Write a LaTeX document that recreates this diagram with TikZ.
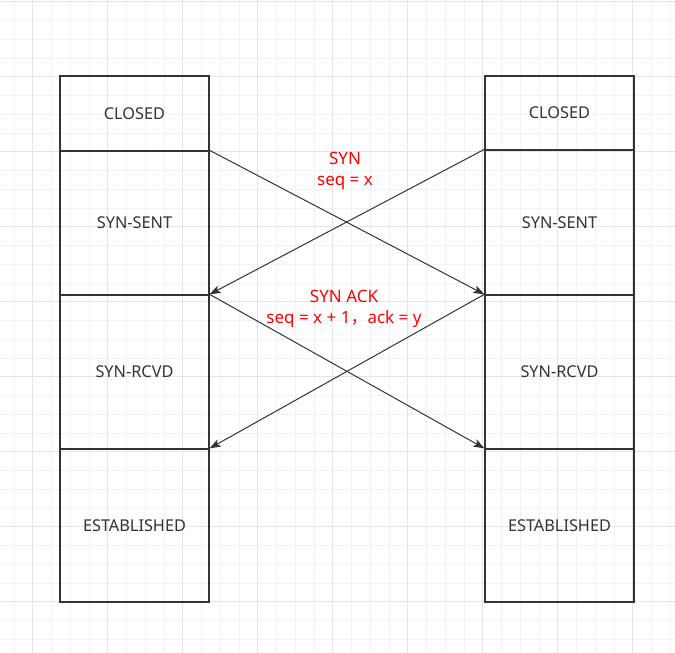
\documentclass[tikz,border=0pt]{standalone}
\usepackage{fontspec}
\setmainfont{Noto Sans}
\newfontfamily\cjk{Noto Sans CJK SC}
\usepackage{tikz}
\usetikzlibrary{arrows.meta}

\definecolor{ink}{HTML}{333333}
\definecolor{gridminor}{HTML}{F2F2F2}
\definecolor{gridmajor}{HTML}{E4E4E4}
\definecolor{msgred}{HTML}{FF0000}

\tikzset{
	state/.style={draw=ink, line width=1.3pt, rectangle, minimum width=149pt, inner sep=0pt, text=ink, font=\fontsize{16.3}{19}\selectfont},
	msg/.style={text=msgred, align=center, font=\fontsize{17}{21}\selectfont},
}

\begin{document}
\begin{tikzpicture}[x=1pt, y=-1pt, >={Stealth[length=11pt, width=8pt, inset=2.5pt]}]
	\useasboundingbox (0,0) rectangle (675,653);
	\fill[white] (0,0) rectangle (675,653);
	% background grid
	\foreach \i in {0,...,35} \draw[gridminor, line width=0.8pt] ({14+18.75*\i},0) -- ++(0,653);
	\foreach \j in {0,...,34} \draw[gridminor, line width=0.8pt] (0,{1.7+18.75*\j}) -- ++(675,0);
	\foreach \i in {0,...,8} \draw[gridmajor, line width=0.8pt] ({32.7+75*\i},0) -- ++(0,653);
	\foreach \j in {0,...,8} \draw[gridmajor, line width=0.8pt] (0,{1.7+75*\j}) -- ++(675,0);

	% client side
	\node[state, minimum height=75pt] (lclosed) at (134.5,113.5) {CLOSED};
	\node[state, minimum height=144pt] (lsent) at (134.5,223) {SYN-SENT};
	\node[state, minimum height=154pt] (lrcvd) at (134.5,372) {SYN-RCVD};
	\node[state, minimum height=153pt] (lest) at (134.5,525.5) {ESTABLISHED};

	% server side
	\node[state, minimum height=74pt] (rclosed) at (559.5,113) {CLOSED};
	\node[state, minimum height=145pt] (rsent) at (559.5,222.5) {SYN-SENT};
	\node[state, minimum height=154pt] (rrcvd) at (559.5,372) {SYN-RCVD};
	\node[state, minimum height=153pt] (rest) at (559.5,525.5) {ESTABLISHED};

	% messages
	\draw[->, ink, line width=1pt] (lsent.north east) -- (rrcvd.north west);
	\draw[->, ink, line width=1pt] (rsent.north west) -- (lrcvd.north east);
	\draw[->, ink, line width=1pt] (lrcvd.north east) -- (rest.north west);
	\draw[->, ink, line width=1pt] (rrcvd.north west) -- (lest.north east);

	\node[msg] (synlbl) at (345,170.5) {SYN\\seq = x};
	\node[msg] (acklbl) at (344,308.5) {SYN ACK\\seq = x + 1{\cjk ，}ack = y};
\end{tikzpicture}
\end{document}
